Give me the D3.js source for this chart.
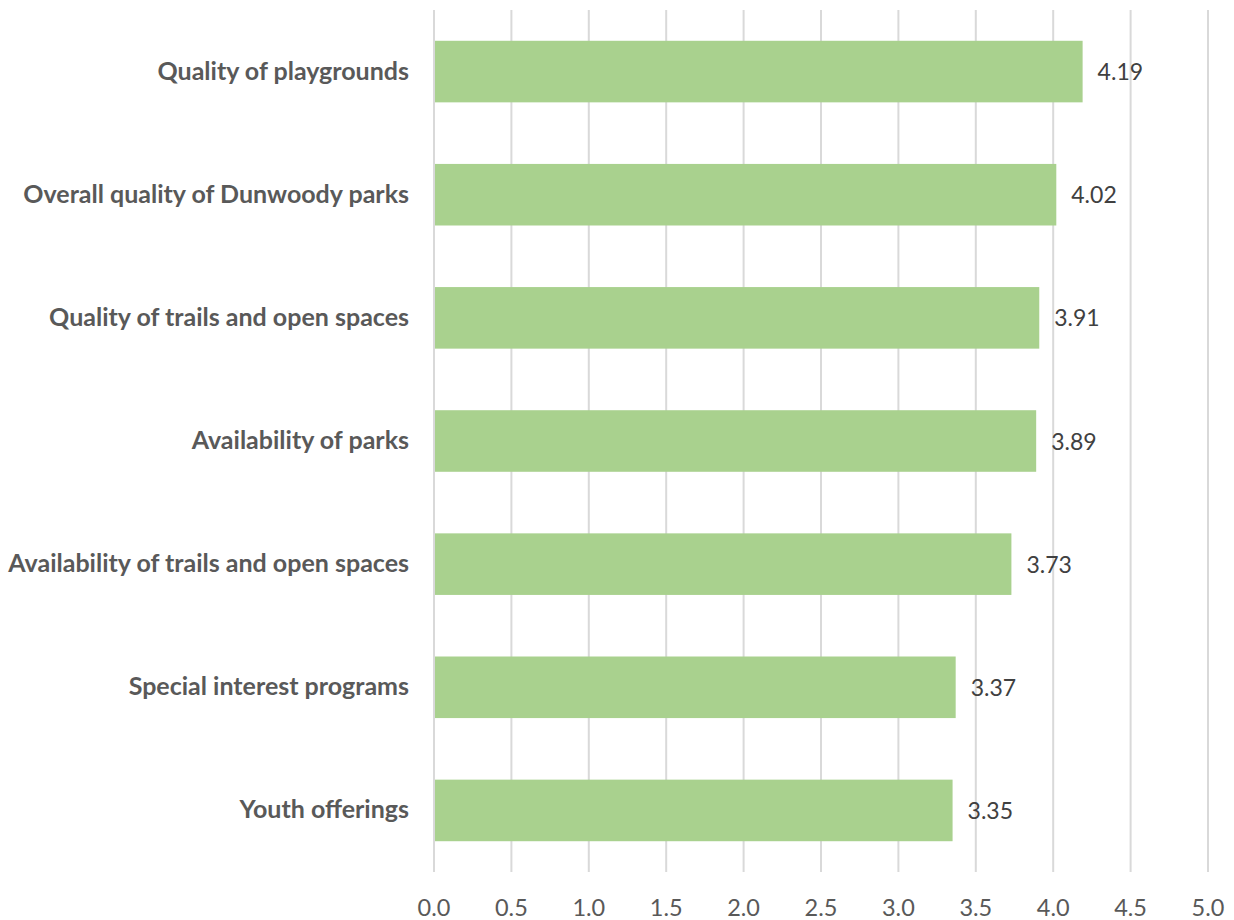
<!DOCTYPE html>
<html><head><meta charset="utf-8">
<script src="https://cdn.jsdelivr.net/npm/d3@7"></script>
<style>body{margin:0;background:#fff}</style></head>
<body><svg id="c" width="1234" height="920"></svg>
<script>
const categories = ["Quality of playgrounds","Overall quality of Dunwoody parks","Quality of trails and open spaces","Availability of parks","Availability of trails and open spaces","Special interest programs","Youth offerings"];
const values = [4.19,4.02,3.91,3.89,3.73,3.37,3.35];
const ticks = [0,0.5,1,1.5,2,2.5,3,3.5,4,4.5,5];

const svg = d3.select("#c");
const x = d3.scaleLinear().domain([0,5]).range([434,1208]);
const y = d3.scaleBand().domain(categories).range([10,872]).paddingInner(0.5).paddingOuter(0.25);

svg.append("g").selectAll("line").data(ticks).join("line")
  .attr("x1",d=>x(d)).attr("x2",d=>x(d)).attr("y1",10).attr("y2",872)
  .attr("stroke","#d9d9d9").attr("stroke-width",2);

svg.append("g").selectAll("text").data(ticks).join("text")
  .attr("x",d=>x(d)).attr("y",916).attr("text-anchor","middle")
  .attr("font-family","Lato, 'Open Sans', sans-serif").attr("font-size",23.5).attr("fill","#595959")
  .text(d=>d3.format(".1f")(d));

svg.append("g").selectAll("rect").data(values).join("rect")
  .attr("x",x(0)+1).attr("y",(d,i)=>y(categories[i])).attr("height",y.bandwidth())
  .attr("width",d=>x(d)-x(0)-1).attr("fill","#a9d18e");

svg.append("g").selectAll("text").data(values).join("text")
  .attr("x",d=>x(d)+15).attr("y",(d,i)=>y(categories[i])+y.bandwidth()/2+8.5)
  .attr("font-family","Lato, 'Open Sans', sans-serif").attr("font-size",23).attr("fill","#404040")
  .text(d=>d.toFixed(2));

svg.append("g").selectAll("text").data(categories).join("text")
  .attr("x",409).attr("y",d=>y(d)+y.bandwidth()/2+8).attr("text-anchor","end")
  .attr("font-family","Lato, 'Open Sans', sans-serif").attr("font-weight","bold").attr("font-size",25).attr("fill","#595959")
  .text(d=>d);
</script></body></html>
